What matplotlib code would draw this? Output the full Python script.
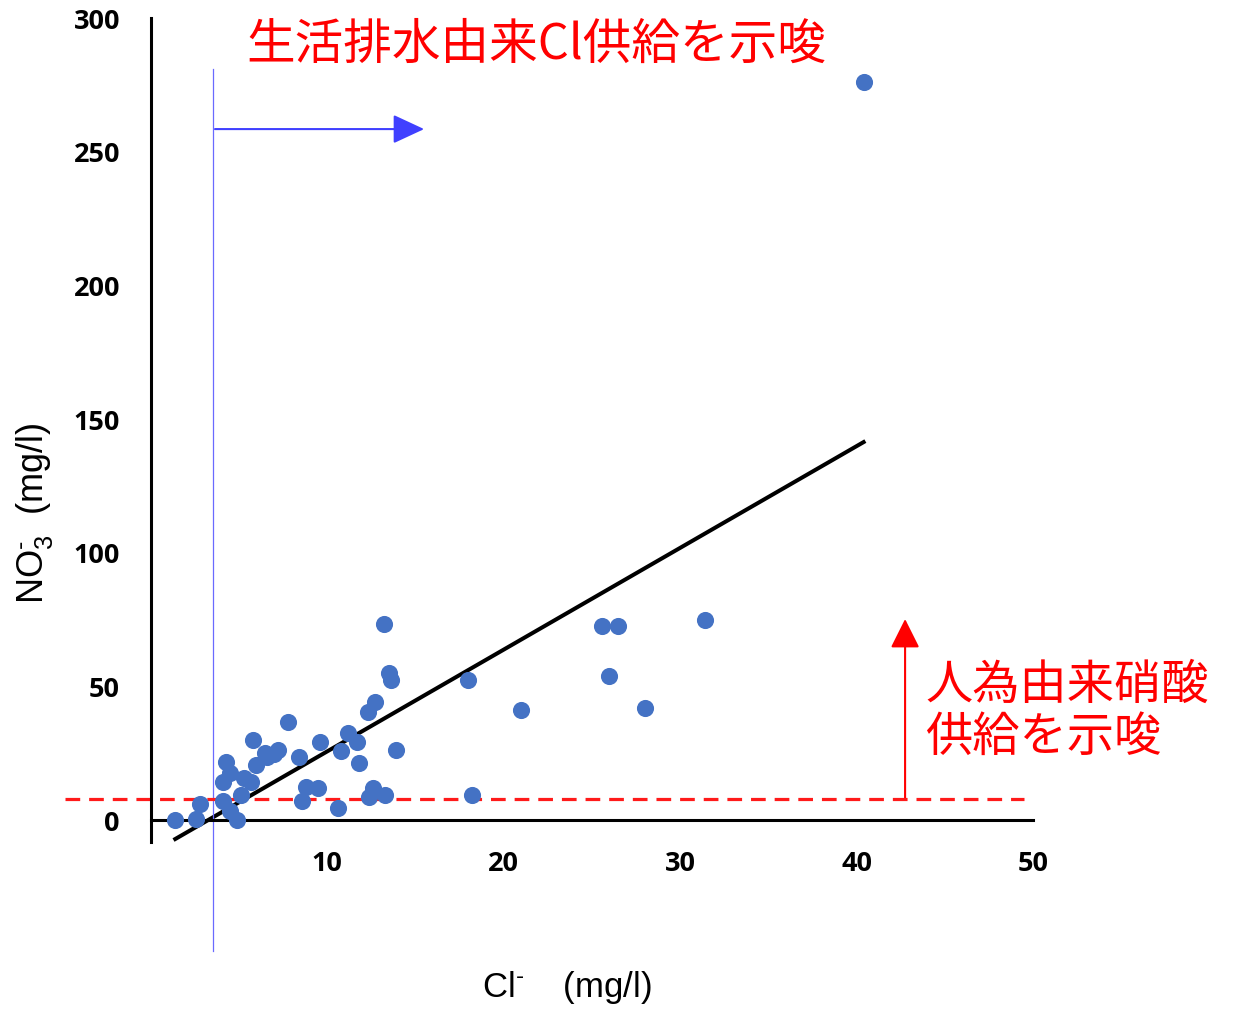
import matplotlib
matplotlib.use("Agg")
import matplotlib.pyplot as plt
from matplotlib.patches import FancyArrowPatch

# Cl- (mg/l) vs NO3- (mg/l)
cl = [1.4, 2.6, 2.8, 4.1, 4.5, 4.9, 5.1, 4.1, 4.3, 4.5, 5.3, 5.7, 5.8, 6.0, 6.5,
      6.6, 7.0, 7.2, 7.8, 8.4, 8.8, 8.6, 9.5, 9.6, 10.6, 10.8, 11.2, 11.7, 11.8,
      12.3, 12.7, 13.2, 13.5, 13.6, 13.9, 12.6, 12.4, 13.3, 18.0, 18.2, 21.0,
      25.6, 26.5, 26.0, 28.0, 31.4, 40.4]
no3 = [0.0, 0.2, 5.8, 6.9, 3.3, 0.0, 9.2, 14.1, 21.6, 17.4, 15.5, 13.9, 29.9,
       20.5, 24.9, 23.3, 24.5, 26.1, 36.4, 23.4, 12.0, 7.0, 11.7, 29.1, 4.3,
       25.7, 32.2, 28.9, 21.0, 40.1, 43.8, 73.1, 54.8, 52.3, 26.0, 11.9, 8.5,
       9.1, 52.1, 9.2, 40.9, 72.4, 72.4, 53.7, 41.7, 74.7, 275.9]

# regression line end points
fit_x = [1.4, 40.4]
fit_y = [-7.3, 141.2]

x_ticks = [10, 20, 30, 40, 50]
y_ticks = [0, 50, 100, 150, 200, 250, 300]

cl_limit = 3.54      # blue vertical line
no3_limit = 7.7      # red dashed line

plt.rcParams['font.family'] = ['Noto Sans CJK JP', 'DejaVu Sans']
plt.rcParams['mathtext.fontset'] = 'custom'
plt.rcParams['mathtext.rm'] = 'Liberation Sans'

fig = plt.figure(figsize=(12.36, 10.12), dpi=100)
ax = fig.add_axes([0.1218, 0.1673, 0.714, 0.8143])
ax.set_xlim(0, 50)
ax.set_ylim(-8.3, 300)

ax.scatter(cl, no3, s=128, color='#4472C4', zorder=3, clip_on=False)
ax.plot(fit_x, fit_y, color='black', lw=2.9, zorder=2, clip_on=False)

# guide lines
ax.plot([cl_limit, cl_limit], [280.8, -49.2], color='#6a6aff', lw=0.9, clip_on=False)
ax.plot([-4.84, 49.5], [no3_limit, no3_limit], color='#ff1a1a', lw=2.3,
        linestyle=(0, (4.6, 2.8)), clip_on=False)

blue_arrow = FancyArrowPatch((3.65, 258.3), (15.5, 258.3),
                             arrowstyle='-|>,head_length=1.94,head_width=0.9',
                             mutation_scale=10, color='#4040ff', lw=1.5,
                             shrinkA=0, shrinkB=0, clip_on=False)
ax.add_patch(blue_arrow)
red_arrow = FancyArrowPatch((42.75, no3_limit), (42.75, 75),
                            arrowstyle='-|>,head_length=1.8,head_width=0.9',
                            mutation_scale=10, color='#ff0000', lw=1.5,
                            shrinkA=0, shrinkB=0, clip_on=False)
ax.add_patch(red_arrow)

ax.text(21.87, 290.1, '生活排水由来Cl供給を示唆', color='#ff0000', fontsize=35,
        ha='center', va='center', clip_on=False)
ax.text(43.88, 40.8, '人為由来硝酸\n供給を示唆', color='#ff0000', fontsize=34,
        ha='left', va='center', linespacing=1.1, clip_on=False)

# axes
for side in ['top', 'right']:
    ax.spines[side].set_visible(False)
ax.spines['bottom'].set_position(('data', 0))
ax.spines['left'].set_linewidth(2.2)
ax.spines['bottom'].set_linewidth(2.2)
ax.set_xticks(x_ticks)
ax.set_yticks(y_ticks)
ax.tick_params(length=0)
ax.tick_params(axis='y', pad=22)
ax.tick_params(axis='x', pad=22)
for lab in ax.get_xticklabels() + ax.get_yticklabels():
    lab.set_family('Open Sans')
    lab.set_fontweight('bold')
    lab.set_fontsize(19.5)

fig.text(35 / 1236, 1 - 513 / 1012, r'NO$_3^{\text{-}}$  (mg/l)', rotation=90,
         ha='center', va='center', fontsize=26, family='Liberation Sans')
fig.text(567 / 1236, 1 - 988 / 1012, r'Cl$^{\text{-}}$    (mg/l)',
         ha='center', va='center', fontsize=25, family='Liberation Sans')

fig.savefig('out.png', dpi=100)
